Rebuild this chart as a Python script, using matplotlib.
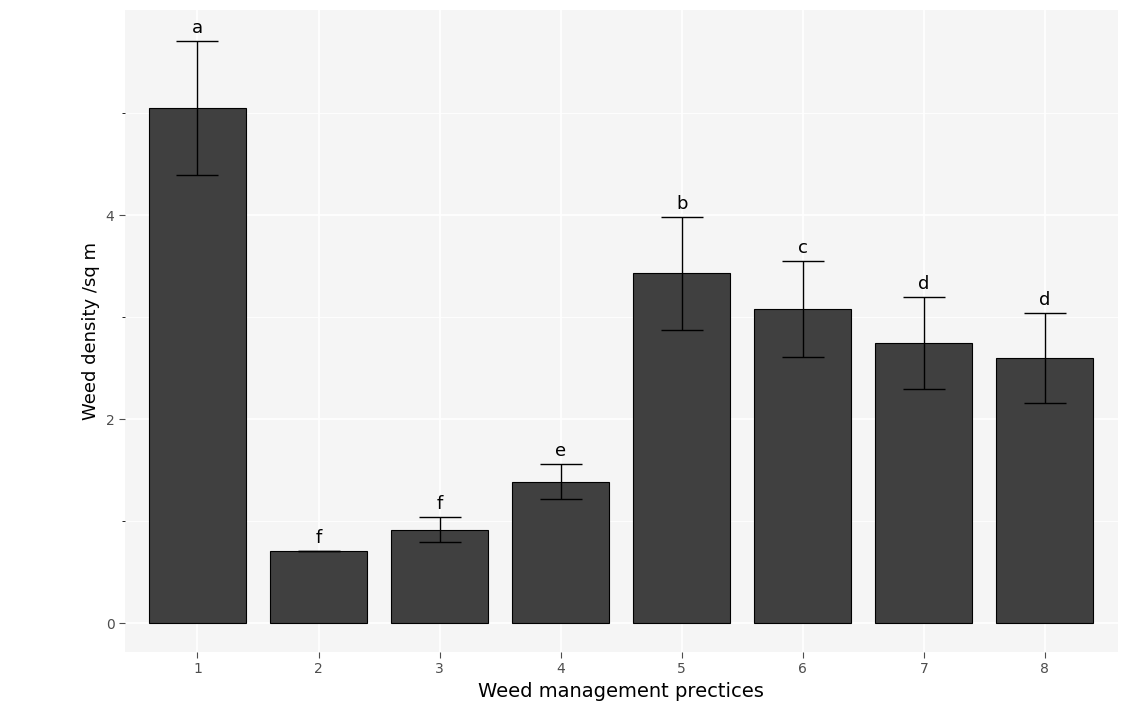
import matplotlib
matplotlib.use("Agg")
import matplotlib.pyplot as plt

practices = [1, 2, 3, 4, 5, 6, 7, 8]
density = [5.05, 0.71, 0.92, 1.39, 3.43, 3.08, 2.75, 2.60]
err = [0.66, 0.0, 0.12, 0.17, 0.55, 0.47, 0.45, 0.44]
letters = ["a", "f", "f", "e", "b", "c", "d", "d"]

fig = plt.figure(figsize=(11.45, 7.26), dpi=100)
ax = fig.add_axes([0.109, 0.102, 0.867, 0.884])
ax.set_facecolor("#F5F5F5")
ax.set_axisbelow(True)
ax.set_yticks([0, 2, 4])
ax.set_yticks([1, 3, 5], minor=True)
ax.grid(which="major", color="white", linewidth=1.2)
ax.grid(which="minor", axis="y", color="white", linewidth=0.6)

ax.bar(practices, density, width=0.8, color="#404040", edgecolor="black", linewidth=0.8)
ax.errorbar(practices, density, yerr=err, fmt="none", ecolor="black",
            elinewidth=1, capsize=15, capthick=1)
for x, y, e, l in zip(practices, density, err, letters):
    ax.text(x, y + e + 0.04, l, ha="center", va="bottom", fontsize=13)

ax.set_xlim(0.4, 8.6)
ax.set_ylim(-0.28, 6.01)
ax.set_xticks(practices)
for s in ax.spines.values():
    s.set_visible(False)
ax.tick_params(colors="#4D4D4D", labelsize=10, length=4)
ax.set_xlabel("Weed management prectices", fontsize=14)
ax.set_ylabel("Weed density /sq m", fontsize=13)
fig.savefig("out.png", dpi=100)
